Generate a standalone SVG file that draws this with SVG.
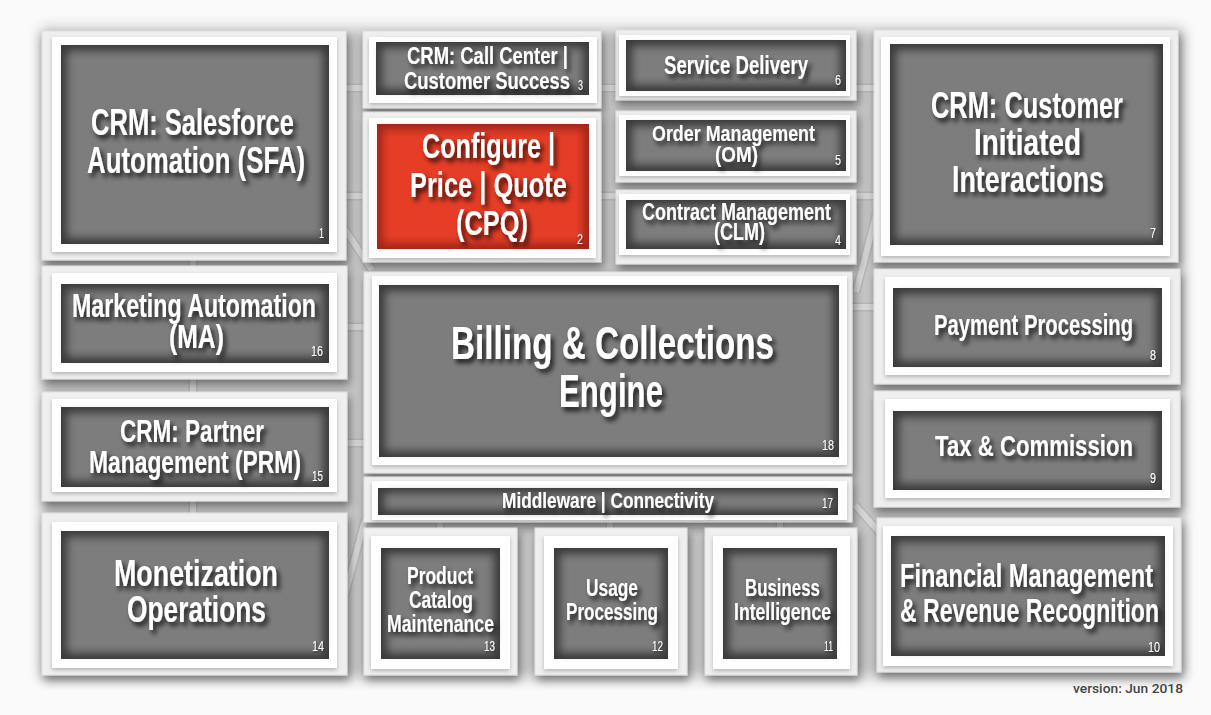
<svg xmlns="http://www.w3.org/2000/svg" width="1211" height="715" viewBox="0 0 1211 715">
<defs>
<filter id="drop" x="-0.2" y="-0.2" width="1.4" height="1.5"><feDropShadow dx="2" dy="5" stdDeviation="5" flood-color="#000" flood-opacity="0.45"/></filter>
<filter id="drop2" x="-0.2" y="-0.2" width="1.4" height="1.4"><feDropShadow dx="0" dy="2" stdDeviation="2" flood-color="#000" flood-opacity="0.25"/></filter>
<filter id="soft" x="-0.5" y="-0.5" width="2" height="2"><feGaussianBlur stdDeviation="4"/></filter>
<filter id="back" x="-0.1" y="-0.1" width="1.2" height="1.2"><feGaussianBlur stdDeviation="7"/></filter>
<filter id="ts" x="-0.3" y="-0.6" width="1.6" height="2.2"><feDropShadow dx="3" dy="4" stdDeviation="2.5" flood-color="#000" flood-opacity="0.8"/></filter>
<filter id="ns" x="-0.5" y="-0.5" width="2" height="2"><feDropShadow dx="1" dy="1" stdDeviation="1" flood-color="#000" flood-opacity="0.6"/></filter>
<style>
.o{fill:#efefef;stroke:#dedede;stroke-width:1;filter:url(#drop)}
.w{fill:#fff;filter:url(#drop2)}
.d{fill:#3a3a3a}
.l{fill:#7d7d7d;filter:url(#soft)}
.rd{fill:#a2261a}
.rl{fill:#e63d27;filter:url(#soft)}
.t{font-family:"Liberation Sans Narrow","Liberation Sans",sans-serif;font-weight:bold;fill:#fff;text-anchor:middle;filter:url(#ts)}
.n{font-family:"Liberation Sans Narrow","Liberation Sans",sans-serif;font-size:14px;fill:#fff;text-anchor:end;filter:url(#ns)}
.c1{fill:none;stroke:#a8a8a8;stroke-width:9;stroke-opacity:0.5}
.c2{fill:none;stroke:#d6d6d6;stroke-width:6}
</style>
</defs>
<rect x="0" y="0" width="1211" height="715" fill="#fafafa"/>
<rect x="40" y="28" width="1144" height="650" fill="#c4c4c4" filter="url(#back)"/>
<g id="connectors">
<g class="c1">
<path d="M340 88H880M340 196H880M340 327H370M848 307H880M340 443H370M193 255V520M440 515V535M610 515V535M780 515V535M340 222L372 270M876 215L856 292M365 520L345 595M855 505L880 533"/>
</g>
<g class="c2">
<path d="M340 88H880M340 196H880M340 327H370M848 307H880M340 443H370M193 255V520M440 515V535M610 515V535M780 515V535M340 222L372 270M876 215L856 292M365 520L345 595M855 505L880 533"/>
</g>
</g>
<g id="n1">
<rect class="o" x="42" y="31" width="304" height="229"/>
<rect class="w" x="52" y="37" width="285" height="215"/>
<rect class="d" x="61" y="45" width="268" height="199"/>
<rect class="l" x="67" y="51" width="256" height="187"/>
<text class="t" font-size="36"><tspan x="192.5" y="135" textLength="203" lengthAdjust="spacingAndGlyphs">CRM: Salesforce</tspan><tspan x="196" y="173" textLength="218" lengthAdjust="spacingAndGlyphs">Automation (SFA)</tspan></text>
<text class="n" x="324" y="238" textLength="5" lengthAdjust="spacingAndGlyphs">1</text>
</g>
<g id="n3">
<rect class="o" x="363" y="31" width="238" height="77"/>
<rect class="w" x="369" y="37" width="228" height="66"/>
<rect class="d" x="376" y="42" width="213" height="53"/>
<rect class="l" x="382" y="48" width="201" height="41"/>
<text class="t" font-size="24"><tspan x="487.5" y="64" textLength="161" lengthAdjust="spacingAndGlyphs">CRM: Call Center |</tspan><tspan x="487" y="89" textLength="166" lengthAdjust="spacingAndGlyphs">Customer Success</tspan></text>
<text class="n" x="583" y="90" font-size="11" textLength="5" lengthAdjust="spacingAndGlyphs">3</text>
</g>
<g id="n2">
<rect class="o" x="363" y="112" width="238" height="150"/>
<rect class="w" x="369" y="118" width="227" height="140"/>
<rect class="rd" x="377" y="124" width="212" height="125"/>
<rect class="rl" x="383" y="130" width="200" height="113"/>
<text class="t" font-size="35"><tspan x="488.5" y="158" textLength="133" lengthAdjust="spacingAndGlyphs">Configure |</tspan><tspan x="488.5" y="196.5" textLength="157" lengthAdjust="spacingAndGlyphs">Price | Quote</tspan><tspan x="492" y="235" textLength="72" lengthAdjust="spacingAndGlyphs">(CPQ)</tspan></text>
<text class="n" x="583" y="244" textLength="6" lengthAdjust="spacingAndGlyphs">2</text>
</g>
<g id="n6">
<rect class="o" x="616" y="30" width="240" height="70"/>
<rect class="w" x="619" y="35" width="231" height="61"/>
<rect class="d" x="626" y="40" width="220" height="51"/>
<rect class="l" x="632" y="46" width="208" height="39"/>
<text class="t" font-size="26" x="736" y="74" textLength="144" lengthAdjust="spacingAndGlyphs">Service Delivery</text>
<text class="n" x="841" y="85" textLength="6" lengthAdjust="spacingAndGlyphs">6</text>
</g>
<g id="n5">
<rect class="o" x="616" y="111" width="240" height="71"/>
<rect class="w" x="619" y="115" width="231" height="61"/>
<rect class="d" x="626" y="120" width="220" height="51"/>
<rect class="l" x="632" y="126" width="208" height="39"/>
<text class="t" font-size="22.5"><tspan x="733.5" y="141" textLength="163" lengthAdjust="spacingAndGlyphs">Order Management</tspan><tspan x="736.5" y="162" textLength="43" lengthAdjust="spacingAndGlyphs">(OM)</tspan></text>
<text class="n" x="841" y="165" textLength="6" lengthAdjust="spacingAndGlyphs">5</text>
</g>
<g id="n4">
<rect class="o" x="616" y="190" width="240" height="74"/>
<rect class="w" x="619" y="194" width="231" height="61"/>
<rect class="d" x="626" y="200" width="220" height="49"/>
<rect class="l" x="632" y="206" width="208" height="37"/>
<text class="t" font-size="23.5"><tspan x="736.5" y="220" textLength="189" lengthAdjust="spacingAndGlyphs">Contract Management</tspan><tspan x="739.5" y="240" textLength="51" lengthAdjust="spacingAndGlyphs">(CLM)</tspan></text>
<text class="n" x="841" y="245" textLength="6" lengthAdjust="spacingAndGlyphs">4</text>
</g>
<g id="n7">
<rect class="o" x="874" y="30" width="304" height="232"/>
<rect class="w" x="881" y="37" width="289" height="219"/>
<rect class="d" x="890" y="44" width="273" height="201"/>
<rect class="l" x="896" y="50" width="261" height="189"/>
<text class="t" font-size="36"><tspan x="1027" y="118" textLength="192" lengthAdjust="spacingAndGlyphs">CRM: Customer</tspan><tspan x="1027.5" y="155" textLength="107" lengthAdjust="spacingAndGlyphs">Initiated</tspan><tspan x="1028" y="192" textLength="152" lengthAdjust="spacingAndGlyphs">Interactions</tspan></text>
<text class="n" x="1156" y="238" textLength="6" lengthAdjust="spacingAndGlyphs">7</text>
</g>
<g id="n16">
<rect class="o" x="42" y="266" width="305" height="113"/>
<rect class="w" x="52" y="273" width="285" height="99"/>
<rect class="d" x="61" y="284" width="268" height="79"/>
<rect class="l" x="67" y="290" width="256" height="67"/>
<text class="t" font-size="33"><tspan x="194" y="317" textLength="244" lengthAdjust="spacingAndGlyphs">Marketing Automation</tspan><tspan x="196.5" y="348" textLength="55" lengthAdjust="spacingAndGlyphs">(MA)</tspan></text>
<text class="n" x="323" y="356" textLength="12" lengthAdjust="spacingAndGlyphs">16</text>
</g>
<g id="n15">
<rect class="o" x="42" y="392" width="305" height="109"/>
<rect class="w" x="52" y="399" width="285" height="93"/>
<rect class="d" x="61" y="407" width="268" height="80"/>
<rect class="l" x="67" y="413" width="256" height="68"/>
<text class="t" font-size="32"><tspan x="192" y="442" textLength="144" lengthAdjust="spacingAndGlyphs">CRM: Partner</tspan><tspan x="195" y="473" textLength="212" lengthAdjust="spacingAndGlyphs">Management (PRM)</tspan></text>
<text class="n" x="323" y="481" textLength="11" lengthAdjust="spacingAndGlyphs">15</text>
</g>
<g id="n18">
<rect class="o" x="364" y="272" width="488" height="201"/>
<rect class="w" x="372" y="276" width="475" height="189"/>
<rect class="d" x="379" y="285" width="460" height="172"/>
<rect class="l" x="385" y="291" width="448" height="160"/>
<text class="t" font-size="46"><tspan x="612.5" y="359" textLength="323" lengthAdjust="spacingAndGlyphs">Billing &amp; Collections</tspan><tspan x="611" y="407" textLength="104" lengthAdjust="spacingAndGlyphs">Engine</tspan></text>
<text class="n" x="834" y="450" textLength="12" lengthAdjust="spacingAndGlyphs">18</text>
</g>
<g id="n17">
<rect class="o" x="364" y="477" width="488" height="45"/>
<rect class="w" x="372" y="481" width="475" height="39"/>
<rect class="d" x="378" y="488" width="460" height="27"/>
<rect class="l" x="384" y="493" width="448" height="17"/>
<text class="t" font-size="22.5" x="608" y="508" textLength="212" lengthAdjust="spacingAndGlyphs">Middleware | Connectivity</text>
<text class="n" x="833" y="508" textLength="11" lengthAdjust="spacingAndGlyphs">17</text>
</g>
<g id="n13">
<rect class="o" x="364" y="528" width="153" height="147"/>
<rect class="w" x="371" y="536" width="139" height="133"/>
<rect class="d" x="381" y="548" width="119" height="111"/>
<rect class="l" x="387" y="554" width="107" height="99"/>
<text class="t" font-size="23"><tspan x="440" y="584" textLength="66" lengthAdjust="spacingAndGlyphs">Product</tspan><tspan x="441" y="608" textLength="64" lengthAdjust="spacingAndGlyphs">Catalog</tspan><tspan x="440.5" y="632" textLength="107" lengthAdjust="spacingAndGlyphs">Maintenance</tspan></text>
<text class="n" x="495" y="651" textLength="11" lengthAdjust="spacingAndGlyphs">13</text>
</g>
<g id="n12">
<rect class="o" x="535" y="528" width="152" height="147"/>
<rect class="w" x="544" y="536" width="134" height="133"/>
<rect class="d" x="554" y="548" width="114" height="111"/>
<rect class="l" x="560" y="554" width="102" height="99"/>
<text class="t" font-size="23.5"><tspan x="612" y="596" textLength="52" lengthAdjust="spacingAndGlyphs">Usage</tspan><tspan x="612" y="620" textLength="92" lengthAdjust="spacingAndGlyphs">Processing</tspan></text>
<text class="n" x="663" y="651" textLength="11" lengthAdjust="spacingAndGlyphs">12</text>
</g>
<g id="n11">
<rect class="o" x="705" y="528" width="152" height="147"/>
<rect class="w" x="713" y="536" width="137" height="133"/>
<rect class="d" x="723" y="548" width="114" height="111"/>
<rect class="l" x="729" y="554" width="102" height="99"/>
<text class="t" font-size="23.5"><tspan x="782.5" y="596" textLength="75" lengthAdjust="spacingAndGlyphs">Business</tspan><tspan x="782.5" y="620" textLength="97" lengthAdjust="spacingAndGlyphs">Intelligence</tspan></text>
<text class="n" x="833" y="651" textLength="9" lengthAdjust="spacingAndGlyphs">11</text>
</g>
<g id="n14">
<rect class="o" x="42" y="513" width="305" height="162"/>
<rect class="w" x="52" y="522" width="285" height="146"/>
<rect class="d" x="61" y="531" width="268" height="128"/>
<rect class="l" x="67" y="537" width="256" height="116"/>
<text class="t" font-size="37"><tspan x="196" y="586" textLength="164" lengthAdjust="spacingAndGlyphs">Monetization</tspan><tspan x="196.5" y="622" textLength="139" lengthAdjust="spacingAndGlyphs">Operations</tspan></text>
<text class="n" x="324" y="651" textLength="12" lengthAdjust="spacingAndGlyphs">14</text>
</g>
<g id="n8">
<rect class="o" x="874" y="269" width="306" height="115"/>
<rect class="w" x="885" y="277" width="285" height="98"/>
<rect class="d" x="893" y="288" width="269" height="79"/>
<rect class="l" x="899" y="294" width="257" height="67"/>
<text class="t" font-size="30" x="1033.5" y="335" textLength="199" lengthAdjust="spacingAndGlyphs">Payment Processing</text>
<text class="n" x="1156" y="360" textLength="6" lengthAdjust="spacingAndGlyphs">8</text>
</g>
<g id="n9">
<rect class="o" x="874" y="391" width="306" height="116"/>
<rect class="w" x="885" y="399" width="285" height="99"/>
<rect class="d" x="893" y="411" width="269" height="79"/>
<rect class="l" x="899" y="417" width="257" height="67"/>
<text class="t" font-size="30" x="1034" y="456" textLength="198" lengthAdjust="spacingAndGlyphs">Tax &amp; Commission</text>
<text class="n" x="1156" y="483" textLength="6" lengthAdjust="spacingAndGlyphs">9</text>
</g>
<g id="n10">
<rect class="o" x="877" y="518" width="304" height="154"/>
<rect class="w" x="883" y="526" width="290" height="140"/>
<rect class="d" x="891" y="536" width="274" height="120"/>
<rect class="l" x="897" y="542" width="262" height="108"/>
<text class="t" font-size="33"><tspan x="1026.5" y="587" textLength="253" lengthAdjust="spacingAndGlyphs">Financial Management</tspan><tspan x="1029.5" y="622" textLength="259" lengthAdjust="spacingAndGlyphs">&amp; Revenue Recognition</tspan></text>
<text class="n" x="1160" y="652" textLength="12" lengthAdjust="spacingAndGlyphs">10</text>
</g>
<text x="1183" y="693" font-family="Roboto, 'Liberation Sans', sans-serif" font-size="13" font-weight="500" fill="#444" text-anchor="end" textLength="110" lengthAdjust="spacingAndGlyphs">version: Jun 2018</text>
</svg>
